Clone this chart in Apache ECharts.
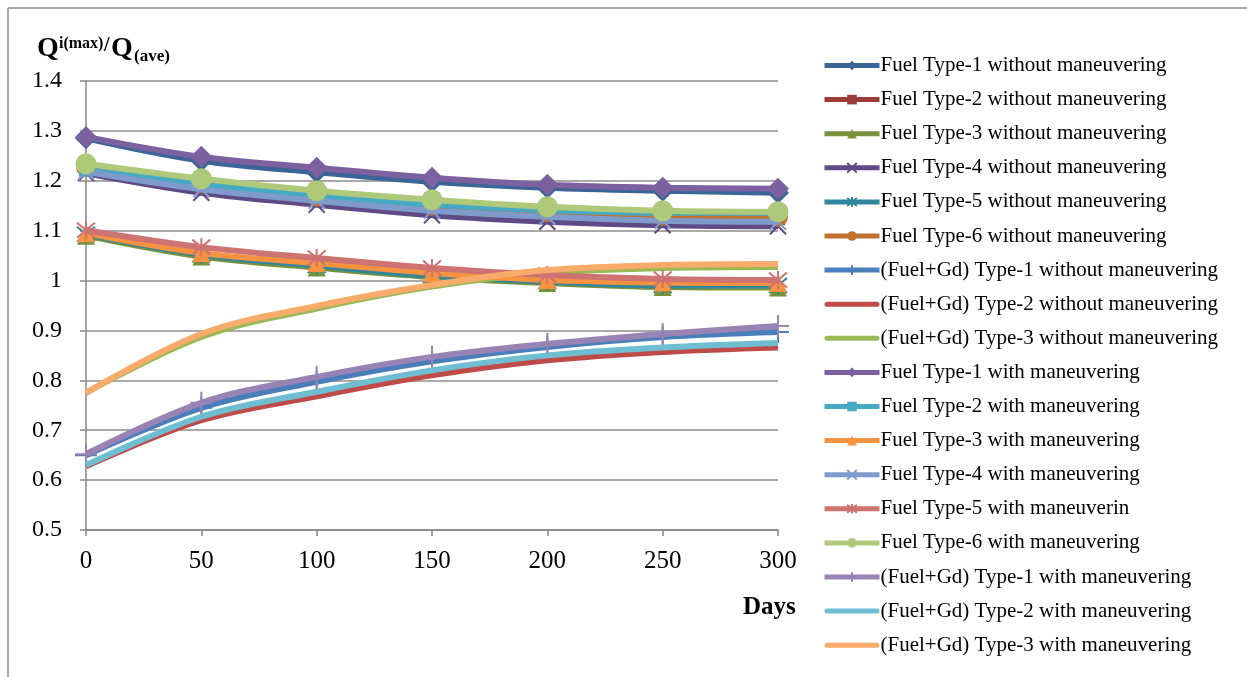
<!DOCTYPE html>
<html><head><meta charset="utf-8">
<script src="https://cdn.jsdelivr.net/npm/echarts@6/dist/echarts.min.js"></script>
<style>html,body{margin:0;padding:0;background:#fff}#c{width:1247px;height:677px}</style>
</head><body><div id="c"></div>
<script>
const days = [0, 50, 100, 150, 200, 250, 300];
const yTicks = [0.5, 1.4, 0.1];
const names = [
  'Fuel Type-1 without maneuvering','Fuel Type-2 without maneuvering','Fuel Type-3 without maneuvering',
  'Fuel Type-4 without maneuvering','Fuel Type-5 without maneuvering','Fuel Type-6 without maneuvering',
  '(Fuel+Gd) Type-1 without maneuvering','(Fuel+Gd) Type-2 without maneuvering','(Fuel+Gd) Type-3 without maneuvering',
  'Fuel Type-1 with maneuvering','Fuel Type-2 with maneuvering','Fuel Type-3 with maneuvering',
  'Fuel Type-4 with maneuvering','Fuel Type-5 with maneuverin','Fuel Type-6 with maneuvering',
  '(Fuel+Gd) Type-1 with maneuvering','(Fuel+Gd) Type-2 with maneuvering','(Fuel+Gd) Type-3 with maneuvering'
];
const fuel1Without = [1.285, 1.240, 1.217, 1.198, 1.186, 1.180, 1.176];
const fuel2Without = [1.225, 1.190, 1.165, 1.147, 1.134, 1.127, 1.125];
const fuel3Without = [1.090, 1.048, 1.026, 1.007, 0.995, 0.987, 0.986];
const fuel4Without = [1.215, 1.176, 1.152, 1.131, 1.118, 1.111, 1.109];
const fuel5Without = [1.093, 1.052, 1.030, 1.010, 0.998, 0.990, 0.990];
const fuel6Without = [1.228, 1.195, 1.168, 1.150, 1.137, 1.130, 1.128];
const gd1Without = [0.650, 0.745, 0.797, 0.838, 0.867, 0.887, 0.897];
const gd2Without = [0.628, 0.720, 0.768, 0.810, 0.840, 0.857, 0.866];
const gd3Without = [0.775, 0.887, 0.944, 0.988, 1.015, 1.025, 1.027];
const fuel1With = [1.288, 1.248, 1.226, 1.206, 1.192, 1.186, 1.184];
const fuel2With = [1.222, 1.193, 1.170, 1.152, 1.141, 1.136, 1.136];
const fuel3With = [1.095, 1.055, 1.035, 1.015, 1.001, 0.996, 0.995];
const fuel4With = [1.218, 1.183, 1.160, 1.140, 1.128, 1.120, 1.118];
const fuel5With = [1.101, 1.067, 1.045, 1.025, 1.011, 1.003, 1.001];
const fuel6With = [1.234, 1.204, 1.180, 1.162, 1.148, 1.140, 1.138];
const gd1With = [0.652, 0.755, 0.807, 0.847, 0.873, 0.893, 0.909];
const gd2With = [0.630, 0.727, 0.777, 0.820, 0.850, 0.866, 0.875];
const gd3With = [0.775, 0.893, 0.949, 0.991, 1.021, 1.031, 1.033];

const values = [fuel1Without, fuel2Without, fuel3Without, fuel4Without, fuel5Without, fuel6Without,
  gd1Without, gd2Without, gd3Without, fuel1With, fuel2With, fuel3With, fuel4With, fuel5With, fuel6With,
  gd1With, gd2With, gd3With];
const colors = ['#3A6596','#9C3B38','#76933C','#5F4A85','#31859C','#C0712E',
  '#4A7EBB','#BE4B48','#98B954','#7D60A0','#46AAC5','#F69240',
  '#7E9BCC','#CD7371','#AFC97A','#9983B5','#6FBDD1','#F9AB6B'];
const X = 'path://M0,0L10,10M10,0L0,10';
const AST = 'path://M0,0L10,10M10,0L0,10M5,-1L5,11';
const PLUS = 'path://M5,0L5,10M2,5L8,5';
const BAR = 'path://M2.5,0L52.5,0A2.5,2.5,0,0,1,52.5,5L2.5,5A2.5,2.5,0,0,1,2.5,0Z';
const symbols = ['diamond','rect','triangle',X,AST,'circle',PLUS,'none','none',
  'diamond','rect','triangle',X,AST,'circle',PLUS,'none','none'];
const sizes = [22,14,18,16,18,20,22,0,0,22,14,18,16,18,21,22,0,0];

const FONT = '"Liberation Serif","Times New Roman",serif';
const series = names.map((n, i) => {
  const stroke = (symbols[i] === X || symbols[i] === AST || symbols[i] === PLUS);
  return {
    name: n, type: 'line', smooth: 0.35,
    data: days.map((d, j) => [d, values[i][j]]),
    symbol: symbols[i], symbolSize: sizes[i], showSymbol: symbols[i] !== 'none',
    lineStyle: {color: colors[i], width: 6},
    itemStyle: {color: colors[i], borderColor: colors[i], borderWidth: stroke ? 2 : 0},
    emphasis: {disabled: true}, animation: false, z: 2 + i
  };
});
const legendData = names.map((n, i) => symbols[i] === 'none' ? {name: n, icon: BAR} : {name: n});

const chart = echarts.init(document.getElementById('c'));
chart.setOption({
  backgroundColor: '#fff',
  animation: false,
  grid: {left: 86, right: 469, top: 81, bottom: 147},
  xAxis: {
    type: 'value', min: 0, max: 300, interval: 50,
    axisLine: {show: true, lineStyle: {color: '#868686', width: 1.5}},
    axisTick: {show: true, length: 6, lineStyle: {color: '#868686', width: 1.5}},
    axisLabel: {fontFamily: FONT, fontSize: 25, color: '#000', margin: 19},
    splitLine: {show: false}
  },
  yAxis: {
    type: 'value', min: yTicks[0], max: yTicks[1], interval: yTicks[2],
    axisLine: {show: true, lineStyle: {color: '#868686', width: 1.5}},
    axisTick: {show: true, length: 6, lineStyle: {color: '#868686', width: 1.5}},
    axisLabel: {fontFamily: FONT, fontSize: 24, color: '#000', margin: 24,
      formatter: v => String(Math.round(v * 10) / 10)},
    splitLine: {show: true, lineStyle: {color: '#8C8C8C', width: 1.5}}
  },
  legend: {
    orient: 'vertical', left: 817, top: 50, height: 640,
    itemWidth: 55, itemHeight: 12, itemGap: 13.1,
    lineStyle: {width: 5},
    textStyle: {fontFamily: FONT, fontSize: 21, color: '#000', padding: [0,0,0,-4], lineHeight: 19},
    data: legendData
  },
  graphic: [
    {type: 'line', shape: {x1: 8, y1: 8, x2: 1247, y2: 8}, style: {stroke: '#8C8C8C', lineWidth: 1.5}},
    {type: 'line', shape: {x1: 8, y1: 8, x2: 8, y2: 677}, style: {stroke: '#8C8C8C', lineWidth: 1.5}},
    {type: 'text', left: 37, top: 35, style: {text: 'Q', font: 'bold 28px ' + FONT, fill: '#000'}},
    {type: 'text', left: 59, top: 36, style: {text: 'i(max)', font: 'bold 16px ' + FONT, fill: '#000'}},
    {type: 'text', left: 104, top: 36, style: {text: '/', font: 'bold 20px ' + FONT, fill: '#000'}},
    {type: 'text', left: 111, top: 35, style: {text: 'Q', font: 'bold 28px ' + FONT, fill: '#000'}},
    {type: 'text', left: 134, top: 48, style: {text: '(ave)', font: 'bold 17px ' + FONT, fill: '#000'}},
    {type: 'text', left: 743, top: 595, style: {text: 'Days', font: 'bold 25px ' + FONT, fill: '#000'}}
  ],
  series: series
});
</script></body></html>
